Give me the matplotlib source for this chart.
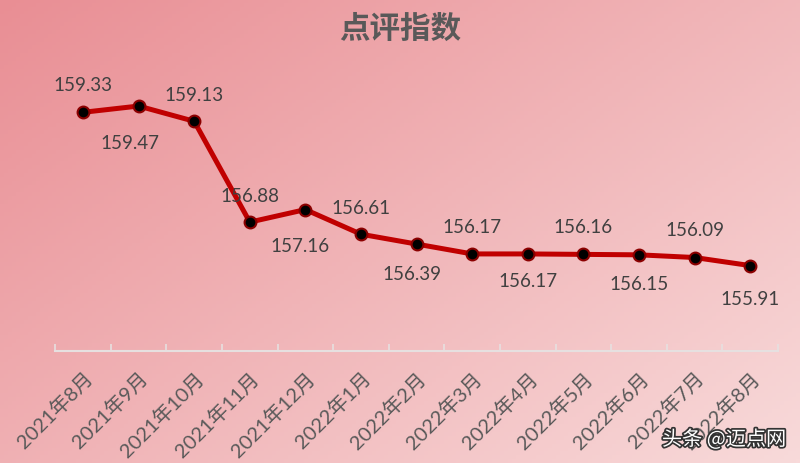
import numpy as np
import matplotlib.pyplot as plt
import matplotlib.patheffects as pe

plt.rcParams['font.family'] = ['Lato', 'Noto Sans CJK SC', 'DejaVu Sans']

# données
mois = ["2021年8月", "2021年9月", "2021年10月", "2021年11月", "2021年12月",
        "2022年1月", "2022年2月", "2022年3月", "2022年4月", "2022年5月",
        "2022年6月", "2022年7月", "2022年8月"]
indice = [159.33, 159.47, 159.13, 156.88, 157.16, 156.61, 156.39,
          156.17, 156.17, 156.16, 156.15, 156.09, 155.91]
# décalage des étiquettes (points) : + au-dessus, - en dessous
decalage = [20, -26, 19, 19, -26, 19, -21, 20, -19, 20, -21, 20, -24]
decalage_x = [0, -6, 0, 0, -4, 0, -3, 0, 0, 0, 0, 0, 0]

fig = plt.figure(figsize=(8, 4.64), dpi=100)

# fond en dégradé
bg = fig.add_axes([0, 0, 1, 1], zorder=-1)
xx, yy = np.meshgrid(np.linspace(0, 1, 200), np.linspace(0, 1, 120))
t = np.clip((xx * 0.55 + yy * 0.45), 0, 1)
c0 = np.array([233, 142, 148]) / 255
c1 = np.array([248, 218, 218]) / 255
img = c0[None, None, :] * (1 - t[..., None]) + c1[None, None, :] * t[..., None]
bg.imshow(img, aspect='auto', extent=[0, 1, 0, 1], origin='upper')
bg.axis('off')

ax = fig.add_axes([0.069, 0.241, 0.9035, 0.5795])
ax.patch.set_alpha(0)
x = np.arange(len(mois))
ax.plot(x, indice, color='#C00000', lw=3.6, marker='o', ms=8.5,
        mfc='black', mec='#8B0000', mew=1.5, zorder=3)

for i, v in enumerate(indice):
    ax.annotate(f"{v:.2f}", (x[i], v), xytext=(decalage_x[i], decalage[i]),
                textcoords='offset points', ha='center', va='center',
                fontsize=13.5, color='#404040')

ax.set_xlim(-0.5, len(mois) - 0.5)
ax.set_ylim(154, 160)
ax.set_yticks([])
for s in ['top', 'right', 'left']:
    ax.spines[s].set_visible(False)
ax.spines['bottom'].set_color('#e6e0e0')
ax.spines['bottom'].set_linewidth(1.5)

ax.set_xticks(x)
ax.set_xticklabels(mois, rotation=45, ha='right', va='top',
                   rotation_mode='anchor', fontsize=14.5, color='#595959')
ax.tick_params(axis='x', which='major', length=0, pad=12)
ax.set_xticks(np.arange(-0.5, len(mois), 1), minor=True)
ax.tick_params(axis='x', which='minor', direction='in', length=5,
               color='#e6e0e0', width=1.2)

fig.text(0.5, 0.938, "点评指数", ha='center', va='center', fontsize=22,
         fontweight='bold', color='#595959', family=['Noto Sans CJK SC'])

fig.text(0.905, 0.05, "头条 @迈点网", ha='center', va='center', fontsize=14.5,
         color='white', family=['Noto Sans CJK SC'],
         path_effects=[pe.withStroke(linewidth=2.5, foreground='#333333')])

fig.savefig("out.png", dpi=100)
